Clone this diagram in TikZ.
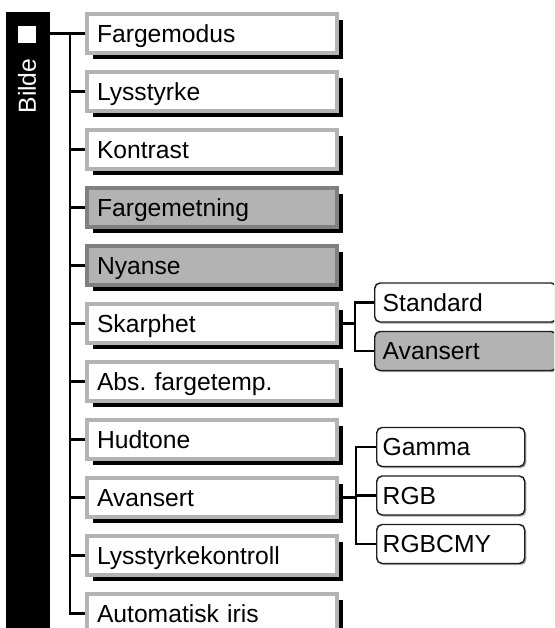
\documentclass[tikz,border=0pt]{standalone}
\usepackage{fontspec}
\setmainfont{Liberation Sans}
\usepackage{xcolor}
\definecolor{menugray}{RGB}{179, 179, 179}
\definecolor{selborder}{RGB}{128, 128, 128}
\definecolor{subborder}{RGB}{30, 30, 30}
\usepackage{tikz}
\usetikzlibrary{shadows, backgrounds}
\frenchspacing

\tikzset{
    menutext/.style={font=\fontsize{18.5}{22}\selectfont, text height=13.2pt, text depth=0pt, align=left},
    menubox/.style={menutext, draw=menugray, fill=white, line width=3pt, inner xsep=7.5pt,
        text width=172.5pt, minimum height=29.25pt, anchor=west,
        general shadow={fill=black, shadow xshift=4.5pt, shadow yshift=-4.5pt}},
    selbox/.style={menubox, draw=selborder, fill=menugray},
    subbox/.style={menutext, draw=subborder, fill=white, line width=1.1pt, rounded corners=4pt,
        inner xsep=4.5pt, minimum height=29.25pt, anchor=west,
        general shadow={fill=black!35, shadow xshift=1.2pt, shadow yshift=-1.2pt}},
    conn/.style={line width=1.7pt, black},
}

\begin{document}
\begin{tikzpicture}[x=0.75pt, y=-0.75pt]
    \useasboundingbox (0,0) rectangle (554,628);
    \clip (0,0) rectangle (554,628);
    % side bar
    \node[fill=black, minimum width=33pt, minimum height=462pt, inner sep=0pt] (bar) at (28,320) {};
    \node[fill=white, minimum width=13.5pt, minimum height=12.75pt, inner sep=0pt] (sq) at (27,34.5) {};
    \node[menutext, white, rotate=90, inner sep=0pt] (bilde) at (27,86) {Bilde};
    % main menu
    \node[menubox] (fmodus)   at (85,33.5)  {Fargemodus};
    \node[menubox] (lys)      at (85,91.5)  {Lysstyrke};
    \node[menubox] (kontrast) at (85,149.5) {Kontrast};
    \node[selbox]  (fmetning) at (85,207.5) {Fargemetning};
    \node[selbox]  (nyanse)   at (85,265.5) {Nyanse};
    \node[menubox] (skarp)    at (85,323.5) {Skarphet};
    \node[menubox] (abstemp)  at (85,381.5) {Abs.\ fargetemp.};
    \node[menubox] (hud)      at (85,439.5) {Hudtone};
    \node[menubox] (avans)    at (85,497.5) {Avansert};
    \node[menubox] (lyskontr) at (85,555.5) {Lysstyrkekontroll};
    \node[menubox] (autoiris) at (85,613.5) {Automatisk iris};
    % sub menus
    \node[subbox, text width=124.5pt, inner xsep=6pt] (standard) at (374,302.5) {Standard};
    \node[subbox, text width=124.5pt, inner xsep=6pt, fill=menugray] (avansert) at (374,351) {Avansert};
    \node[subbox, text width=102pt] (gamma)  at (376,447)   {Gamma};
    \node[subbox, text width=102pt] (rgb)    at (376,495.5) {RGB};
    \node[subbox, text width=102pt] (rgbcmy) at (376,544)   {RGBCMY};
    % connectors
    \coordinate (spine) at (70,0);
    \coordinate (kskarp) at (355,0);
    \coordinate (kavans) at (356,0);
    \begin{scope}[on background layer]
        \draw[conn] (bar.east |- fmodus.west) -- (fmodus.west);
        \draw[conn] (spine |- fmodus.west) |- (autoiris.west);
        \foreach \m in {lys, kontrast, fmetning, nyanse, skarp, abstemp, hud, avans, lyskontr}
            \draw[conn] (spine |- \m.west) -- (\m.west);
        \draw[conn] (skarp.east) -- (kskarp |- skarp.east);
        \draw[conn] (standard.west) -| (kskarp |- skarp.east) |- (avansert.west);
        \draw[conn] (avans.east) -- (kavans |- avans.east);
        \draw[conn] (gamma.west) -| (kavans |- rgb.west) |- (rgbcmy.west);
        \draw[conn] (kavans |- rgb.west) -- (rgb.west);
    \end{scope}
\end{tikzpicture}
\end{document}
